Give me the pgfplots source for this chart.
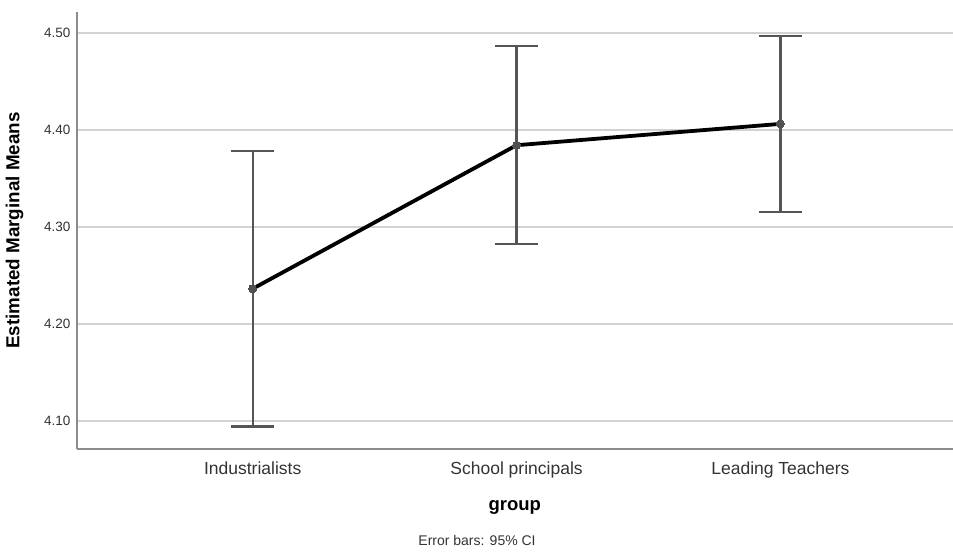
\documentclass[border=0pt]{standalone}
\usepackage{pgfplots}
\pgfplotsset{compat=1.18}
\usepackage{fontspec}
\setmainfont{Liberation Sans}
\definecolor{gridc}{HTML}{D2D2D2}
\definecolor{axisc}{HTML}{8C8C8C}
\definecolor{errc}{HTML}{555555}
\definecolor{markc}{HTML}{505050}
\definecolor{labc}{HTML}{333333}
\begin{document}
\begin{tikzpicture}
\useasboundingbox (-76.7pt,-103.7pt) rectangle (876.3pt,449.3pt);
\begin{axis}[
  at={(0,0)}, anchor=south west,
  scale only axis, width=876pt, height=437.6pt,
  xmin=-0.667, xmax=2.653, ymin=4.0704, ymax=4.5217,
  axis x line*=bottom, axis y line*=left,
  axis line style={color=axisc, line width=2pt, -},
  major tick length=0pt,
  xtick={0,1,2},
  xticklabels={Industrialists,School principals,Leading Teachers},
  ytick={4.1,4.2,4.3,4.4,4.5},
  yticklabels={4.10,4.20,4.30,4.40,4.50},
  ymajorgrids, grid style={color=gridc, line width=2pt},
  xticklabel style={font=\fontsize{17.5}{20}\selectfont, text=labc, anchor=base, yshift=-25pt},
  yticklabel style={font=\fontsize{13.5}{16}\selectfont, text=labc, anchor=east, inner sep=0pt, xshift=-6pt},
  xlabel={group},
  xlabel style={font=\bfseries\fontsize{18.5}{22}\selectfont, at={(axis description cs:0.5,-0.132)}, anchor=center},
  ylabel={Estimated Marginal Means},
  ylabel style={font=\bfseries\fontsize{18.8}{22}\selectfont, at={(axis description cs:-0.0708,0.5)}, anchor=center},
  clip=false,
]
\addplot[draw=none, mark=none,
  error bars/.cd, y dir=both, y explicit,
  error bar style={color=errc, line width=2.2pt},
  error mark options={rotate=90, mark size=21.5pt, color=errc, line width=2.2pt}]
  coordinates {
    (0,4.236) +- (0,0.142)
    (1,4.384) +- (0,0.102)
    (2,4.406) +- (0,0.091)
  };
\addplot[black, line width=3.8pt, mark=*, mark size=4pt,
  mark options={fill=markc, draw=markc, line width=0pt}]
  coordinates {
    (0,4.236)
    (1,4.384)
    (2,4.406)
  };
\node[font=\fontsize{14}{16}\selectfont, text=labc] at (axis description cs:0.457,-0.2073) {Error bars: 95\% CI};
\end{axis}
\end{tikzpicture}
\end{document}
